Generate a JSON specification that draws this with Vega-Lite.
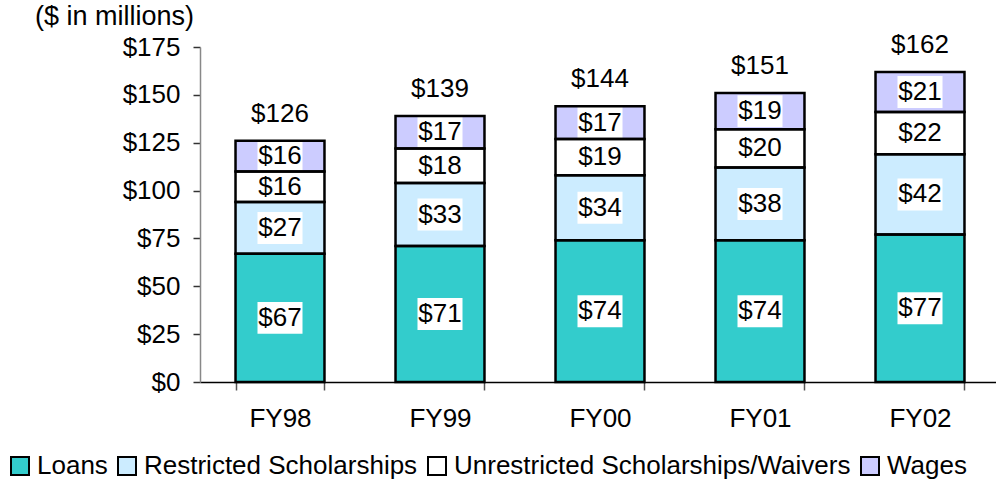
{
  "$schema": "https://vega.github.io/schema/vega-lite/v6.json",
  "width": 796,
  "height": 335,
  "autosize": {"type": "none"},
  "padding": {"left": 200, "top": 47, "right": 0, "bottom": 98},
  "background": "white",
  "config": {
    "font": "Liberation Sans",
    "view": {"stroke": null},
    "axis": {"grid": false}
  },
  "title": {
    "text": "($ in millions)",
    "anchor": "start",
    "frame": "group",
    "fontSize": 27,
    "fontWeight": "normal",
    "color": "black",
    "dx": -165,
    "dy": 20,
    "offset": 0,
    "baseline": "alphabetic"
  },
  "datasets": {
    "segments": [
      {"year": "FY98", "category": "Loans", "ord": 1, "value": 67},
      {"year": "FY98", "category": "Restricted Scholarships", "ord": 2, "value": 27},
      {"year": "FY98", "category": "Unrestricted Scholarships/Waivers", "ord": 3, "value": 16},
      {"year": "FY98", "category": "Wages", "ord": 4, "value": 16},
      {"year": "FY99", "category": "Loans", "ord": 1, "value": 71},
      {"year": "FY99", "category": "Restricted Scholarships", "ord": 2, "value": 33},
      {"year": "FY99", "category": "Unrestricted Scholarships/Waivers", "ord": 3, "value": 18},
      {"year": "FY99", "category": "Wages", "ord": 4, "value": 17},
      {"year": "FY00", "category": "Loans", "ord": 1, "value": 74},
      {"year": "FY00", "category": "Restricted Scholarships", "ord": 2, "value": 34},
      {"year": "FY00", "category": "Unrestricted Scholarships/Waivers", "ord": 3, "value": 19},
      {"year": "FY00", "category": "Wages", "ord": 4, "value": 17},
      {"year": "FY01", "category": "Loans", "ord": 1, "value": 74},
      {"year": "FY01", "category": "Restricted Scholarships", "ord": 2, "value": 38},
      {"year": "FY01", "category": "Unrestricted Scholarships/Waivers", "ord": 3, "value": 20},
      {"year": "FY01", "category": "Wages", "ord": 4, "value": 19},
      {"year": "FY02", "category": "Loans", "ord": 1, "value": 77},
      {"year": "FY02", "category": "Restricted Scholarships", "ord": 2, "value": 42},
      {"year": "FY02", "category": "Unrestricted Scholarships/Waivers", "ord": 3, "value": 22},
      {"year": "FY02", "category": "Wages", "ord": 4, "value": 21}
    ],
    "totals": [
      {"year": "FY98", "total": 126},
      {"year": "FY99", "total": 139},
      {"year": "FY00", "total": 144},
      {"year": "FY01", "total": 151},
      {"year": "FY02", "total": 162}
    ]
  },
  "data": {"name": "segments"},
  "encoding": {
    "x": {
      "field": "year",
      "type": "nominal",
      "sort": ["FY98", "FY99", "FY00", "FY01", "FY02"],
      "scale": {"range": [0, 800], "paddingInner": 0.444, "paddingOuter": 0.222},
      "axis": {
        "title": null,
        "labelAngle": 0,
        "tickBand": "extent",
        "tickSize": 8,
        "labelPadding": 15,
        "labelFontSize": 26,
        "labelColor": "black",
        "domainColor": "black",
        "domainWidth": 1.5,
        "tickColor": "#555555",
        "tickWidth": 1.5
      }
    }
  },
  "layer": [
    {
      "mark": {"type": "bar", "strokeWidth": 0},
      "encoding": {
        "y": {
          "field": "value",
          "type": "quantitative",
          "stack": "zero",
          "title": null,
          "scale": {"domain": [0, 175], "nice": false},
          "axis": {
            "values": [0, 25, 50, 75, 100, 125, 150, 175],
            "labelExpr": "'$' + datum.value",
            "labelFontSize": 26,
            "labelColor": "black",
            "labelPadding": 13,
            "tickSize": 7,
            "tickColor": "#333333",
            "tickWidth": 1.5,
            "domainColor": "#888888",
            "domainWidth": 1.5,
            "title": null
          }
        },
        "color": {
          "field": "category",
          "type": "nominal",
          "scale": {
            "domain": ["Loans", "Restricted Scholarships", "Unrestricted Scholarships/Waivers", "Wages"],
            "range": ["#33CCCC", "#CCECFF", "#FFFFFF", "#CCCCFF"]
          },
          "legend": {
            "orient": "none",
            "legendX": -193,
            "legendY": 406,
            "direction": "horizontal",
            "title": null,
            "padding": 0,
            "symbolType": "square",
            "symbolSize": 324,
            "symbolStrokeColor": "black",
            "symbolStrokeWidth": 2,
            "symbolOpacity": 1,
            "labelFontSize": 26,
            "labelColor": "black",
            "labelOffset": 4,
            "labelLimit": 1000,
            "columnPadding": 6
          }
        },
        "order": {"field": "ord", "type": "quantitative"}
      }
    },
    {
      "mark": {
        "type": "point",
        "shape": "M-1,-0.71L1,-0.71L1,0.71L-1,0.71Z",
        "size": 2025,
        "filled": true,
        "fill": "white",
        "opacity": 1,
        "strokeWidth": 0
      },
      "encoding": {
        "y": {"field": "value", "type": "quantitative", "stack": "zero", "bandPosition": 0.5, "title": null},
        "detail": {"field": "category"},
        "order": {"field": "ord", "type": "quantitative"}
      }
    },
    {
      "mark": {"type": "bar", "fillOpacity": 0, "stroke": "black", "strokeWidth": 2.5},
      "encoding": {
        "y": {"field": "value", "type": "quantitative", "stack": "zero", "title": null},
        "detail": {"field": "category"},
        "order": {"field": "ord", "type": "quantitative"}
      }
    },
    {
      "mark": {"type": "text", "fontSize": 26, "baseline": "middle", "color": "black"},
      "encoding": {
        "y": {"field": "value", "type": "quantitative", "stack": "zero", "bandPosition": 0.5, "title": null},
        "text": {"field": "value", "type": "quantitative", "format": "$d"},
        "detail": {"field": "category"},
        "order": {"field": "ord", "type": "quantitative"}
      }
    },
    {
      "data": {"name": "totals"},
      "mark": {"type": "text", "fontSize": 26, "baseline": "alphabetic", "dy": -19, "color": "black"},
      "encoding": {
        "y": {"field": "total", "type": "quantitative", "title": null},
        "text": {"field": "total", "type": "quantitative", "format": "$d"}
      }
    }
  ]
}
